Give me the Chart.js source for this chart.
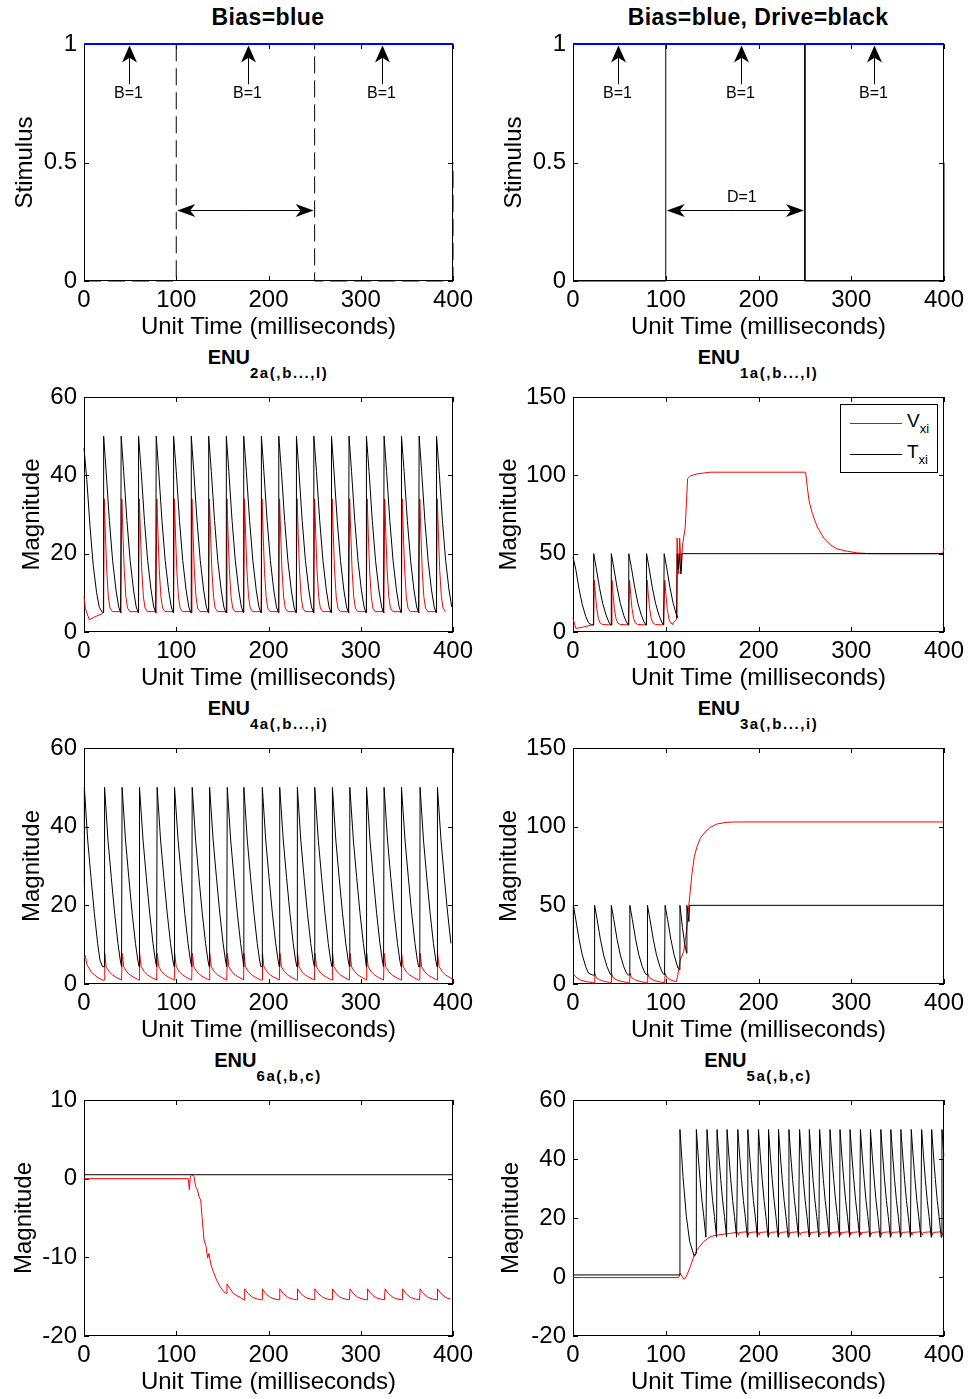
<!DOCTYPE html>
<html>
<head>
<meta charset="utf-8">
<script src="https://cdn.jsdelivr.net/npm/chart.js@4.4.1/dist/chart.umd.min.js"></script>
<style>
  body { margin: 0; background: #fff; width: 969px; height: 1399px; position: relative; overflow: hidden;
         font-family: Arial, "Liberation Sans", Helvetica, sans-serif; color: #000; }
  canvas { position: absolute; }
  .ttl { position: absolute; transform: translateX(-50%); white-space: nowrap; font-weight: bold; }
  .ttl.big { font-size: 23px; line-height: 23px; letter-spacing: 0.4px; }
  .ttl.enu { font-size: 20px; line-height: 20px; }
  .ttl .sub { position: relative; top: 14px; font-size: 15px; letter-spacing: 1.6px; }
  .lgd { position: absolute; left: 840px; top: 404px; width: 96px; height: 67px; border: 1px solid #000; background: #fff; }
  .lgd .ln { position: absolute; left: 9px; width: 52px; height: 1px; }
  .lgd .tx { position: absolute; left: 66px; font-size: 19px; line-height: 19px; }
  .lgd .tx span { position: relative; top: 6px; font-size: 13px; }
</style>
</head>
<body>
<div class="ttl big" style="left:268px; top:6px">Bias=blue</div>
<div class="ttl big" style="left:758px; top:6px">Bias=blue, Drive=black</div>
<div class="ttl enu" style="left:268px; top:347px">ENU<span class="sub">2a(,b...,l)</span></div>
<div class="ttl enu" style="left:758px; top:347px">ENU<span class="sub">1a(,b...,l)</span></div>
<div class="ttl enu" style="left:268px; top:698px">ENU<span class="sub">4a(,b...,i)</span></div>
<div class="ttl enu" style="left:758px; top:698px">ENU<span class="sub">3a(,b...,i)</span></div>
<div class="ttl enu" style="left:268px; top:1050px">ENU<span class="sub">6a(,b,c)</span></div>
<div class="ttl enu" style="left:758px; top:1050px">ENU<span class="sub">5a(,b,c)</span></div>

<script>
// ---- data (time in ms) ----
const timeTicks = [0, 100, 200, 300, 400];

// stimulus panels
const biasT = [0, 400];
const biasV = [1, 1];
const driveT = [0, 100, 100, 250, 250, 400, 400];
const driveV = [0, 0, 1, 1, 0, 0, 0.5];
const biasArrowsA = [49, 178, 323];
const biasArrowsB = [49, 181, 324];
const driveSpan = [100, 250];

// ENU2a
const enu2Spikes = [21, 40, 59, 78, 97, 116, 135, 154, 173, 192, 211, 230, 249, 268, 287, 306, 325, 344, 363, 382];
const enu2BlackLead = [[0, 47], [3, 39], [6.5, 27], [10, 17], [13.7, 10], [16.6, 6.3], [20, 5]];
const enu2BlackShape = [[0, 5], [0.3, 50], [3, 41], [6.5, 28.5], [10, 18.3], [13.7, 10.7], [16.6, 6.4], [18.7, 5]];
const enu2RedLead = [[0, 9], [1.5, 6], [5.8, 3.1], [12, 3.9], [20, 4.7]];
const enu2RedShape = [[0, 4.9], [1, 34], [2.2, 25], [3.6, 15.8], [5.4, 9], [7.2, 6.1], [9.8, 5.2], [18.7, 5.2]];

// ENU1a
const enu1Spikes = [22, 41, 60, 79, 98];
const enu1BlackLead = [[0, 48], [3, 40], [6.5, 27.5], [10, 17.5], [13.7, 10], [16.6, 6], [20, 4.5]];
const enu1BlackShape = [[0, 4.5], [0.3, 50], [3, 41], [6.5, 28.5], [10, 18.3], [13.7, 10.7], [16.6, 6.4], [18.7, 4.5]];
const enu1BlackTail = [[112, 9], [112.4, 50], [113.6, 40], [114.6, 50], [116.4, 37], [117.4, 50], [400, 50]];
const enu1RedLead = [[0, 8.7], [3, 2.3], [10, 3], [20, 4.5]];
const enu1RedShape = [[0, 4.5], [1, 33], [2.2, 24], [3.6, 15], [5.4, 8.5], [7.2, 5.8], [9.8, 4.8], [18.7, 4.5]];
const enu1RedTail = [[108, 6], [111.5, 7.7], [112.2, 60], [113.9, 37], [115, 60], [116.8, 39], [118, 55], [121, 67],
  [123.6, 98], [126.5, 99.6], [133.7, 100.9], [148, 102], [250.8, 102], [252.6, 92.8], [254.4, 84], [258, 75.7],
  [263.4, 67], [270.6, 59.8], [278, 55.5], [285, 53], [295.9, 51.5], [306.7, 50.5], [320, 50], [398.5, 50], [400, 53.4]];

// ENU4a
const enu4Spikes = [22, 41, 60, 79, 98, 117, 136, 155, 173, 193, 212, 231, 250, 269, 288, 306, 325, 344, 364, 383];
const enu4BlackLead = [[0, 25], [0.4, 50], [4, 36.6], [7.6, 27], [11.2, 18], [14.8, 10.3], [17.3, 6.1], [20, 4.4]];
const enu4BlackShape = [[0, 4.4], [0.3, 50], [4, 36.6], [7.6, 27], [11.2, 18], [14.8, 10.3], [17.3, 6.1], [18.7, 4.4]];
const enu4RedLead = [[0, 6.5], [1.5, 7.2], [3, 5], [8, 3], [14, 1.8], [20, 1]];
const enu4RedShape = [[0, 1], [0.5, 7.8], [2, 4.4], [5.4, 3.1], [9, 2.3], [13, 1.7], [17, 1.2], [18.7, 1]];

// ENU3a
const enu3Spikes = [23, 41, 61, 80, 99];
const enu3BlackLead = [[0, 26], [0.4, 50], [3, 41], [6.5, 28.5], [10, 18.5], [13.7, 11], [16.6, 7], [21, 5.7]];
const enu3BlackShape = [[0, 5.7], [0.3, 50], [3, 41], [6.5, 28.5], [10, 18.5], [13.7, 11], [16.6, 7], [18.7, 5.7]];
const enu3BlackTail = [[113, 10.5], [115, 9], [115.3, 50], [118, 36], [120, 27], [122.5, 19.5], [122.8, 50],
  [125, 39.6], [125.6, 50], [400, 50]];
const enu3RedLead = [[0, 6.8], [3, 4.5], [8, 2.5], [14, 1.5], [21, 0.9]];
const enu3RedShape = [[0, 0.85], [0.5, 6.8], [2, 4.2], [5.4, 2.8], [9, 2], [13, 1.4], [17, 1], [18.7, 0.85]];
const enu3RedTail = [[111.4, 1.5], [112.8, 5], [115.7, 15.3], [119.3, 20.6], [121.1, 28], [122.9, 36.4], [124.7, 49],
  [126.5, 59.7], [128.3, 70.3], [130.8, 81], [133.7, 87.3], [137.3, 92.6], [142.7, 96.8], [148.1, 99.6],
  [155.3, 101.7], [166.1, 102.8], [176.9, 103], [400, 103]];

// ENU6a
const enu6Black = [[0, 0.5], [400, 0.5]];
const enu6RedLead = [[0, 0], [113, 0], [114.2, -1.4], [115.3, 0.34], [116.7, 0.5], [119.2, 0.3], [121, -1],
  [122.9, -1.4], [124.7, -2.3], [126.5, -2.7], [127.9, -4.8], [130.1, -7.8], [132.3, -8.6], [134, -10.1],
  [135.5, -9.5], [137.3, -10.8], [139.5, -11.6], [143.8, -12.9], [147.4, -13.7], [151.8, -14.4], [154.6, -14.6],
  [155, -13.4], [162, -14.6], [173.6, -15.4]];
const enu6Teeth = [174, 193, 212, 231, 250, 269, 288, 307, 326, 345, 364, 383];
const enu6ToothShape = [[0, -15.4], [0.4, -14], [4, -14.6], [9, -15.1], [14, -15.3], [18.7, -15.4]];

// ENU5a
const enu5BlackLead = [[0, 0.7], [115, 0.7], [115.3, 50], [118.6, 34], [122.2, 20.6], [125.8, 12], [130.8, 7], [132.8, 8]];
const enu5Spikes = [133, 144.5, 155.3, 166.1, 177.7, 188.5, 200, 210.8, 221.6, 232.8, 244.3, 254.8, 265.9, 277.1,
  287.9, 298.7, 309.9, 320.7, 331.9, 342.7, 353.5, 364.7, 375.9, 386.7, 397.8];
const enu5BlackShape = [[0, 50], [2, 41], [4, 33], [6, 26], [8, 20.5], [10.3, 13.5]];
const enu5RedLead = [[0, -0.2], [113.9, -0.2], [115.7, 1.2], [117.5, 0.3], [119.3, -0.7], [121.1, -0.4], [122.9, 0.7],
  [126.5, 3.5], [130.1, 6.9], [133.7, 9.2], [140.9, 12], [148.1, 13.7], [155.3, 14.2], [169.7, 14.8]];
const enu5RedShape = [[0, 15.2], [0.6, 14.3], [1.8, 15.1], [9, 15.3]];

// ---- helpers ----
const pts = (xs, ys) => xs.map((x, i) => ({x, y: ys[i]}));
const pairs = arr => arr.map(([x, y]) => ({x, y}));

// lead points, then one copy of the spike shape per spike (cut at the next spike), then tail
function train(lead, spikes, shape, tail = [[400, null]]) {
  const out = pairs(lead);
  const end = tail[0][0];
  spikes.forEach((t, i) => {
    const next = i + 1 < spikes.length ? spikes[i + 1] : end;
    shape.forEach(([dt, v]) => { if (t + dt < next || (i === spikes.length - 1 && t + dt <= 400 && tail[0][1] === null)) out.push({x: t + dt, y: v}); });
  });
  tail.forEach(([x, y]) => { if (y !== null) out.push({x, y}); });
  return out;
}

const line = (data, color, extra = {}) => Object.assign({
  data, borderColor: color, borderWidth: 1, pointRadius: 0, tension: 0, clip: false, fill: false
}, extra);

// ---- layout ----
const COLS = [{left: 84, width: 369}, {left: 573, width: 371}];
const ROWS = [{top: 44, height: 237}, {top: 397, height: 235}, {top: 748, height: 236}, {top: 1100, height: 236}];
const PAD_TOP = 24, PAD_RIGHT = 28, Y_AXIS_W = 84, X_AXIS_H = 62;
const FONT = 'Arial, "Liberation Sans", Helvetica, sans-serif';

Chart.defaults.font.family = FONT;
Chart.defaults.font.size = 24;
Chart.defaults.color = '#000';

// box round the plot with ticks pointing inwards on all four sides
const axesBox = {
  id: 'axesBox',
  beforeDatasetsDraw(chart) {
    const {ctx, chartArea: a, scales: {x, y}} = chart;
    const L = 5;
    ctx.save();
    ctx.strokeStyle = '#000';
    ctx.lineWidth = 1;
    ctx.strokeRect(a.left + 0.5, a.top + 0.5, a.width - 1, a.height - 1);
    ctx.beginPath();
    x.ticks.forEach(t => {
      const px = Math.round(x.getPixelForValue(t.value)) + 0.5;
      ctx.moveTo(px, a.bottom); ctx.lineTo(px, a.bottom - L);
      ctx.moveTo(px, a.top); ctx.lineTo(px, a.top + L);
    });
    y.ticks.forEach(t => {
      const py = Math.round(y.getPixelForValue(t.value)) + 0.5;
      ctx.moveTo(a.left, py); ctx.lineTo(a.left + L, py);
      ctx.moveTo(a.right, py); ctx.lineTo(a.right - L, py);
    });
    ctx.stroke();
    ctx.restore();
  }
};

function arrow(ctx, x0, y0, x1, y1, len, half) {
  const ang = Math.atan2(y1 - y0, x1 - x0);
  const c = Math.cos(ang), s = Math.sin(ang);
  const bx = x1 - len * c, by = y1 - len * s;
  const nx = x1 - len * 0.72 * c, ny = y1 - len * 0.72 * s;
  ctx.beginPath();
  ctx.moveTo(x0, y0); ctx.lineTo(nx, ny);
  ctx.stroke();
  ctx.beginPath();
  ctx.moveTo(x1, y1);
  ctx.lineTo(bx - half * s, by + half * c);
  ctx.lineTo(nx, ny);
  ctx.lineTo(bx + half * s, by - half * c);
  ctx.closePath();
  ctx.fill();
}

// B=1 arrows under the bias line and the drive span arrow
function stimulusNotes(arrowsAt, spanLabel) {
  return {
    id: 'stimulusNotes',
    afterDatasetsDraw(chart) {
      const {ctx, scales: {x, y}} = chart;
      ctx.save();
      ctx.strokeStyle = '#000';
      ctx.fillStyle = '#000';
      ctx.lineWidth = 1;
      ctx.font = '16px ' + FONT;
      ctx.textAlign = 'center';
      ctx.textBaseline = 'middle';
      arrowsAt.forEach(t => {
        const px = Math.round(x.getPixelForValue(t)) + 0.5;
        arrow(ctx, px, y.getPixelForValue(0.83), px, y.getPixelForValue(1) + 1.5, 17, 7.5);
        ctx.fillText('B=1', px - 1, y.getPixelForValue(0.79));
      });
      const py = Math.round(y.getPixelForValue(0.3)) + 0.5;
      const x0 = x.getPixelForValue(driveSpan[0]) + 1, x1 = x.getPixelForValue(driveSpan[1]) - 1;
      const mid = (x0 + x1) / 2;
      arrow(ctx, mid, py, x0, py, 18, 6.5);
      arrow(ctx, mid, py, x1, py, 18, 6.5);
      if (spanLabel) ctx.fillText(spanLabel, x.getPixelForValue(182), y.getPixelForValue(0.35));
      ctx.restore();
    }
  };
}

function panel(col, row, yr, yTitle, titlePad, datasets, plugins = []) {
  const c = COLS[col], r = ROWS[row];
  const cv = document.createElement('canvas');
  cv.width = Y_AXIS_W + c.width + PAD_RIGHT;
  cv.height = PAD_TOP + r.height + X_AXIS_H;
  cv.style.left = (c.left - Y_AXIS_W) + 'px';
  cv.style.top = (r.top - PAD_TOP) + 'px';
  document.body.appendChild(cv);
  return new Chart(cv, {
    type: 'line',
    data: {datasets},
    options: {
      responsive: false,
      animation: false,
      devicePixelRatio: 1,
      layout: {padding: {top: PAD_TOP, right: PAD_RIGHT, left: 0, bottom: 0}},
      plugins: {legend: {display: false}, tooltip: {enabled: false}},
      scales: {
        x: {
          type: 'linear', min: 0, max: 400,
          afterBuildTicks: s => { s.ticks = timeTicks.map(value => ({value})); },
          afterFit: s => { s.height = X_AXIS_H; },
          grid: {display: false, drawTicks: false},
          border: {display: false},
          ticks: {padding: 5, callback: v => String(v), maxRotation: 0},
          title: {display: true, text: 'Unit Time (milliseconds)', padding: {top: 0, bottom: 1}}
        },
        y: {
          type: 'linear', min: yr[0], max: yr[1],
          afterBuildTicks: s => { s.ticks = yr[2].map(value => ({value})); },
          afterFit: s => { s.width = Y_AXIS_W; },
          grid: {display: false, drawTicks: false},
          border: {display: false},
          ticks: {padding: 7, callback: v => String(v)},
          title: {display: true, text: yTitle, padding: {top: titlePad, bottom: 0}}
        }
      }
    },
    plugins: [axesBox, ...plugins]
  });
}

const RED = '#ff0000', BLACK = '#000000', BLUE = '#0000ff';

// row 1: stimulus
panel(0, 0, [0, 1, [0, 0.5, 1]], 'Stimulus', 10.5, [
  line(pts(biasT, biasV), BLUE, {borderWidth: 2}),
  line(pts(driveT, driveV), BLACK, {borderDash: [17, 7]})
], [stimulusNotes(biasArrowsA, null)]);

panel(1, 0, [0, 1, [0, 0.5, 1]], 'Stimulus', 10.5, [
  line(pts(biasT, biasV), BLUE, {borderWidth: 2}),
  line(pts(driveT, driveV), BLACK)
], [stimulusNotes(biasArrowsB, 'D=1')]);

// row 2
panel(0, 1, [0, 60, [0, 20, 40, 60]], 'Magnitude', 17.5, [
  line(train(enu2BlackLead, enu2Spikes, enu2BlackShape), BLACK),
  line(train(enu2RedLead, enu2Spikes, enu2RedShape), RED)
]);

panel(1, 1, [0, 150, [0, 50, 100, 150]], 'Magnitude', 5.5, [
  line(train(enu1BlackLead, enu1Spikes, enu1BlackShape, enu1BlackTail), BLACK),
  line(train(enu1RedLead, enu1Spikes, enu1RedShape, enu1RedTail), RED)
]);

// row 3
panel(0, 2, [0, 60, [0, 20, 40, 60]], 'Magnitude', 17.5, [
  line(train(enu4BlackLead, enu4Spikes, enu4BlackShape), BLACK),
  line(train(enu4RedLead, enu4Spikes, enu4RedShape), RED)
]);

panel(1, 2, [0, 150, [0, 50, 100, 150]], 'Magnitude', 5.5, [
  line(train(enu3BlackLead, enu3Spikes, enu3BlackShape, enu3BlackTail), BLACK),
  line(train(enu3RedLead, enu3Spikes, enu3RedShape, enu3RedTail), RED)
]);

// row 4
panel(0, 3, [-20, 10, [-20, -10, 0, 10]], 'Magnitude', 9.5, [
  line(pairs(enu6Black), BLACK),
  line(train(enu6RedLead, enu6Teeth, enu6ToothShape), RED)
]);

panel(1, 3, [-20, 60, [-20, 0, 20, 40, 60]], 'Magnitude', 7.5, [
  line(train(enu5BlackLead, enu5Spikes, enu5BlackShape), BLACK),
  line(train(enu5RedLead, enu5Spikes.slice(4), enu5RedShape), RED)
]);
</script>

<div class="lgd">
  <div class="ln" style="top:18px; background:#ff0000"></div>
  <div class="tx" style="top:6px">V<span>xi</span></div>
  <div class="ln" style="top:49px; background:#000"></div>
  <div class="tx" style="top:37px">T<span>xi</span></div>
</div>
</body>
</html>
